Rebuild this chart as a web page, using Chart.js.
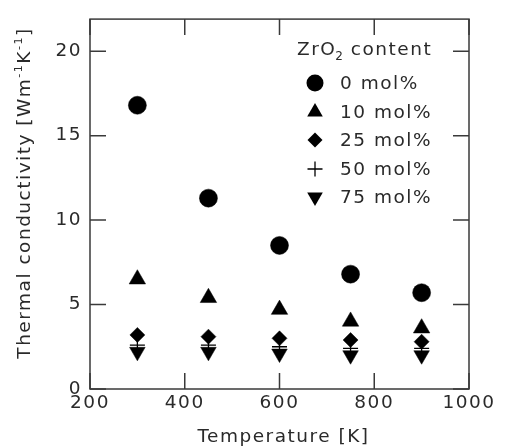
<!DOCTYPE html>
<html>
<head>
<meta charset="utf-8">
<script src="https://cdn.jsdelivr.net/npm/chart.js@4/dist/chart.umd.min.js"></script>
<style>
html,body{margin:0;padding:0;background:#fff;}
#wrap{width:505px;height:448px;position:relative;}
</style>
</head>
<body>
<div id="wrap"><canvas id="c" width="505" height="448"></canvas></div>
<script>
// ---- data ----
const temperatures = [300, 450, 600, 750, 900];
const k0mol  = [16.8, 11.3, 8.5, 6.8, 5.7];
const k10mol = [6.5, 5.4, 4.7, 4.0, 3.6];
const k25mol = [3.2, 3.1, 3.0, 2.9, 2.8];
const k50mol = [2.6, 2.6, 2.5, 2.4, 2.4];
const k75mol = [2.2, 2.2, 2.1, 2.0, 2.0];
const seriesLabels = ['0 mol%', '10 mol%', '25 mol%', '50 mol%', '75 mol%'];
const xTicks = [200, 400, 600, 800, 1000];
const yTicks = [0, 5, 10, 15, 20];

const FONT = '"DejaVu Sans", "Liberation Sans", Arial, sans-serif';
const FS = 18.5;
const TXT = '#2a2a2a';
const LS = '1.5px';

function pts(vals){ return temperatures.map((t,i)=>({x:t, y:vals[i]})); }

const styles = [
  {pointStyle:'circle', radius:9, rot:0},
  {pointStyle:'triangle', radius:9.5, rot:0},
  {pointStyle:'rectRot', radius:7.5, rot:0},
  {pointStyle:'cross', radius:7.5, rot:0},
  {pointStyle:'triangle', radius:9, rot:180}
];
const allVals = [k0mol, k10mol, k25mol, k50mol, k75mol];

const datasets = allVals.map((v,i)=>({
  label: seriesLabels[i],
  data: pts(v),
  pointStyle: styles[i].pointStyle,
  pointRadius: styles[i].radius,
  pointRotation: styles[i].rot,
  pointBackgroundColor: '#000',
  pointBorderColor: '#000',
  pointBorderWidth: i === 3 ? 1.3 : 0.5,
  showLine: false
}));

function drawMarker(ctx, style, x, y, r, rot){
  ctx.save();
  ctx.translate(x, y);
  ctx.rotate(rot * Math.PI / 180);
  ctx.fillStyle = '#000'; ctx.strokeStyle = '#000';
  ctx.beginPath();
  if (style === 'circle') { ctx.arc(0,0,r,0,Math.PI*2); ctx.fill(); }
  else if (style === 'triangle') {
    for (let k=0;k<3;k++){ const a = k*2*Math.PI/3; const px=Math.sin(a)*r, py=-Math.cos(a)*r; if(k===0) ctx.moveTo(px,py); else ctx.lineTo(px,py);} ctx.closePath(); ctx.fill();
  } else if (style === 'rectRot') {
    ctx.moveTo(0,-r); ctx.lineTo(r,0); ctx.lineTo(0,r); ctx.lineTo(-r,0); ctx.closePath(); ctx.fill();
  } else if (style === 'cross') {
    ctx.lineWidth = 1.3; ctx.moveTo(-r,0); ctx.lineTo(r,0); ctx.moveTo(0,-r); ctx.lineTo(0,r); ctx.stroke();
  }
  ctx.restore();
}

const decor = {
  id: 'decor',
  beforeDraw(chart){
    chart.ctx.letterSpacing = LS;
  },
  afterDraw(chart){
    const ctx = chart.ctx;
    const a = chart.chartArea;
    const xs = chart.scales.x, ys = chart.scales.y;
    ctx.save();
    // frame
    ctx.strokeStyle = '#3a3a3a';
    ctx.lineWidth = 1.5;
    ctx.strokeRect(a.left, a.top, a.right - a.left, a.bottom - a.top);
    // inward ticks
    const tl = 16;
    ctx.beginPath();
    xTicks.forEach(v=>{
      const px = xs.getPixelForValue(v);
      ctx.moveTo(px, a.bottom); ctx.lineTo(px, a.bottom - tl);
      ctx.moveTo(px, a.top); ctx.lineTo(px, a.top + tl);
    });
    yTicks.forEach(v=>{
      const py = ys.getPixelForValue(v);
      ctx.moveTo(a.left, py); ctx.lineTo(a.left + tl, py);
      ctx.moveTo(a.right, py); ctx.lineTo(a.right - tl, py);
    });
    ctx.stroke();

    ctx.fillStyle = TXT;
    ctx.letterSpacing = LS;
    // x title
    ctx.font = FS + 'px ' + FONT;
    ctx.textAlign = 'center';
    ctx.textBaseline = 'middle';
    ctx.fillText('Temperature [K]', (a.left + a.right)/2 + 4, 437);

    // y title with superscripts
    ctx.save();
    ctx.translate(25, 193);
    ctx.rotate(-Math.PI/2);
    const parts = [
      {t:'Thermal conductivity [Wm', sup:false},
      {t:'-1', sup:true},
      {t:'K', sup:false},
      {t:'-1', sup:true},
      {t:']', sup:false}
    ];
    let total = 0;
    parts.forEach(p=>{ ctx.font = (p.sup ? '11px ' : FS + 'px ') + FONT; p.w = ctx.measureText(p.t).width; total += p.w; });
    let x0 = -total/2;
    ctx.textAlign = 'left';
    parts.forEach(p=>{
      ctx.font = (p.sup ? '11px ' : FS + 'px ') + FONT;
      ctx.fillText(p.t, x0, p.sup ? -6 : 0);
      x0 += p.w;
    });
    ctx.restore();

    // legend
    ctx.textAlign = 'left';
    ctx.textBaseline = 'middle';
    ctx.font = FS + 'px ' + FONT;
    let lx = 297, ly = 50;
    ctx.fillText('ZrO', lx, ly);
    let w = ctx.measureText('ZrO').width;
    ctx.font = '12px ' + FONT;
    ctx.fillText('2', lx + w - 1, ly + 7);
    let w2 = ctx.measureText('2').width;
    ctx.font = FS + 'px ' + FONT;
    ctx.fillText(' content', lx + w + w2 - 2, ly);

    const rowY = [83, 112, 140, 169, 197];
    seriesLabels.forEach((lab,i)=>{
      const st = styles[i];
      drawMarker(ctx, st.pointStyle, 315, rowY[i], st.pointStyle === 'circle' ? 8.5 : (st.pointStyle === 'triangle' ? 9 : 7.5), st.rot);
      ctx.fillStyle = TXT;
      ctx.font = FS + 'px ' + FONT;
      ctx.fillText(lab, 340, rowY[i] + 1);
    });
    ctx.restore();
  }
};

new Chart(document.getElementById('c'), {
  type: 'scatter',
  data: { datasets },
  options: {
    responsive: false,
    animation: false,
    layout: { padding: { left: 0, top: 11, right: 36, bottom: 0 } },
    plugins: { legend: { display: false }, tooltip: { enabled: false } },
    scales: {
      x: {
        type: 'linear', min: 200, max: 1000,
        afterFit(s){ s.height = 59; },
        grid: { display: false, drawTicks: false },
        border: { display: false },
        ticks: { stepSize: 200, padding: 3, color: TXT, font: { size: FS, family: FONT }, maxRotation: 0, autoSkip: false,
                 callback: v => String(v) }
      },
      y: {
        type: 'linear', min: 0, max: 21.9,
        afterFit(s){ s.width = 90; },
        grid: { display: false, drawTicks: false },
        border: { display: false },
        ticks: { stepSize: 5, includeBounds: false, padding: 8, color: TXT, font: { size: FS, family: FONT },
                 callback: v => String(v) }
      }
    }
  },
  plugins: [decor]
});
</script>
</body>
</html>
